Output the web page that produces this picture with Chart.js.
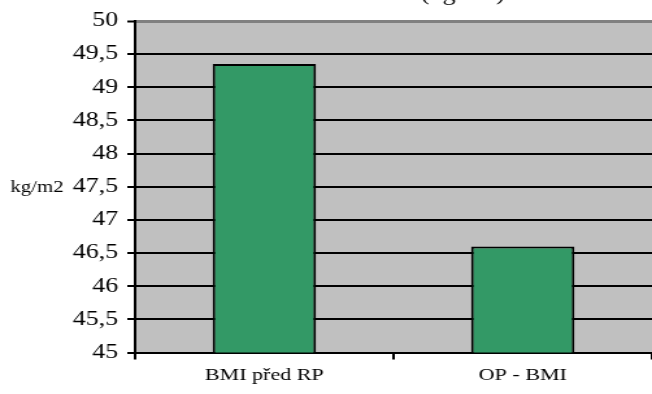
<!DOCTYPE html>
<html>
<head>
<meta charset="utf-8">
<script src="https://cdn.jsdelivr.net/npm/chart.js@4"></script>
<style>
  html, body { margin: 0; padding: 0; background: #fff; overflow: hidden; width: 652px; height: 394px; }
  /* the chart is laid out narrow and widened horizontally */
  #wrap { position: absolute; left: 0; top: -24px; width: 502px; height: 418px;
          transform: scaleX(1.2988); transform-origin: 0 0; }
  canvas { display: block; }
</style>
</head>
<body>
<div id="wrap"><canvas id="c" width="502" height="418"></canvas></div>
<script>
const categories = ['BMI před RP', 'OP - BMI'];
const bmiValues = [49.35, 46.6];
const yMin = 45;
const yMax = 50;
const yStep = 0.5;
const titleText = 'Průměr BMI (kg/m2)';
const unitLabel = 'kg/m2';

const serif = "'Liberation Serif', 'Times New Roman', serif";

// grey plot background
const plotBackground = {
  id: 'plotBackground',
  beforeDraw(chart) {
    const { ctx, chartArea: a } = chart;
    ctx.save();
    ctx.fillStyle = '#C0C0C0';
    ctx.fillRect(a.left, a.top, a.right - a.left, a.bottom - a.top);
    ctx.restore();
  }
};

// horizontal unit label beside the value axis
const unitText = {
  id: 'unitText',
  afterDraw(chart) {
    const { ctx } = chart;
    const y = chart.scales.y.getPixelForValue((yMin + yMax) / 2);
    ctx.save();
    ctx.font = '16px ' + serif;
    ctx.fillStyle = '#000';
    ctx.textAlign = 'left';
    ctx.textBaseline = 'middle';
    ctx.fillText(unitLabel, 8, y + 1);
    ctx.restore();
  }
};

new Chart(document.getElementById('c'), {
  type: 'bar',
  data: {
    labels: categories,
    datasets: [{
      data: bmiValues,
      backgroundColor: '#339966',
      borderColor: '#000000',
      borderWidth: 2,
      borderSkipped: 'bottom',
      barPercentage: 0.4,
      categoryPercentage: 1.0
    }]
  },
  options: {
    responsive: false,
    animation: false,
    devicePixelRatio: 1,
    layout: { padding: { left: 0, right: 0, top: 0, bottom: 2 } },
    plugins: {
      legend: { display: false },
      tooltip: { enabled: false },
      title: {
        display: true,
        text: titleText,
        fullSize: false,
        color: '#000',
        font: { family: serif, size: 20, weight: 'normal' },
        padding: { top: 7, bottom: 14 }
      }
    },
    scales: {
      x: {
        grid: {
          display: true,
          offset: true,
          drawOnChartArea: false,
          drawTicks: true,
          tickLength: 7,
          color: '#000',
          lineWidth: 2
        },
        border: { display: true, color: '#000', width: 2 },
        ticks: {
          color: '#000',
          padding: 6,
          font: { family: serif, size: 17 }
        }
      },
      y: {
        min: yMin,
        max: yMax,
        afterFit(scale) { scale.width = 104; },
        grid: {
          color: (c) => (c.tick && c.tick.value === yMax ? '#808080' : '#000'),
          lineWidth: (c) => (c.tick && c.tick.value === yMax ? 3 : 2),
          tickColor: '#000',
          tickWidth: 2,
          tickLength: 6,
          drawTicks: true
        },
        border: { display: true, color: '#000', width: 2 },
        ticks: {
          stepSize: yStep,
          color: '#000',
          padding: 7,
          font: { family: serif, size: 20 },
          callback: (v) => String(v).replace('.', ',')
        }
      }
    }
  },
  plugins: [plotBackground, unitText]
});
</script>
</body>
</html>
